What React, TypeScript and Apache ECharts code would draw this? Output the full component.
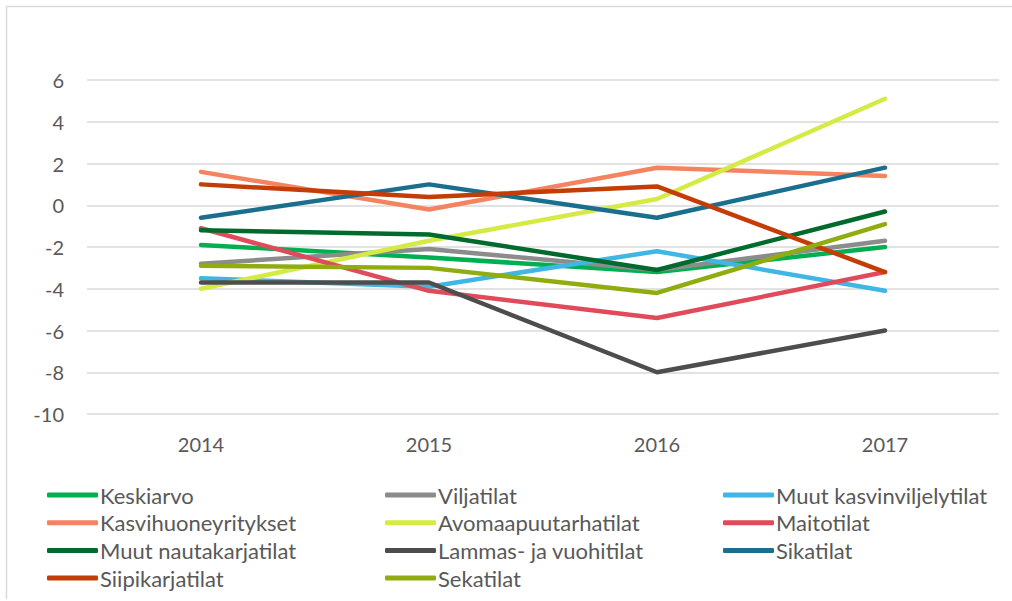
import React, { useEffect, useRef } from "react";
import * as echarts from "echarts";

const years = ["2014", "2015", "2016", "2017"];
const seriesNames = [
  "Keskiarvo",
  "Viljatilat",
  "Muut kasvinviljelytilat",
  "Kasvihuoneyritykset",
  "Avomaapuutarhatilat",
  "Maitotilat",
  "Muut nautakarjatilat",
  "Lammas- ja vuohitilat",
  "Sikatilat",
  "Siipikarjatilat",
  "Sekatilat",
];
const keskiarvo = [-1.9, -2.5, -3.2, -2.0];
const viljatilat = [-2.8, -2.1, -3.1, -1.7];
const muutKasvinviljely = [-3.5, -3.9, -2.2, -4.1];
const kasvihuone = [1.6, -0.2, 1.8, 1.4];
const avomaa = [-4.0, -1.7, 0.3, 5.1];
const maitotilat = [-1.1, -4.1, -5.4, -3.2];
const muutNauta = [-1.2, -1.4, -3.1, -0.3];
const lammas = [-3.7, -3.7, -8.0, -6.0];
const sikatilat = [-0.6, 1.0, -0.6, 1.8];
const siipikarja = [1.0, 0.4, 0.9, -3.2];
const sekatilat = [-2.9, -3.0, -4.2, -0.9];
const seriesValues = [
  keskiarvo,
  viljatilat,
  muutKasvinviljely,
  kasvihuone,
  avomaa,
  maitotilat,
  muutNauta,
  lammas,
  sikatilat,
  siipikarja,
  sekatilat,
];
const colors = [
  "#00b050",
  "#8c8c8c",
  "#3fb6e3",
  "#f4845f",
  "#d5eb43",
  "#e04a5a",
  "#006b2d",
  "#4d4d4d",
  "#1b6f8e",
  "#c43c06",
  "#8fac11",
];

const FONT = "Lato, 'Open Sans', sans-serif";

export default function App() {
  const ref = useRef<HTMLDivElement>(null);
  useEffect(() => {
    if (!ref.current) return;
    const chart = echarts.init(ref.current, undefined, { renderer: "svg" });
    const legendCols = [
      { left: 47, names: [seriesNames[0], seriesNames[3], seriesNames[6], seriesNames[9]] },
      { left: 385, names: [seriesNames[1], seriesNames[4], seriesNames[7], seriesNames[10]] },
      { left: 723, names: [seriesNames[2], seriesNames[5], seriesNames[8]] },
    ];
    chart.setOption({
      animation: false,
      backgroundColor: "#ffffff",
      color: colors,
      grid: { left: 87, right: 13, top: 80, bottom: 187, containLabel: false },
      xAxis: {
        type: "category",
        data: years,
        boundaryGap: true,
        axisLine: { show: false },
        axisTick: { show: false },
        axisLabel: { color: "#595959", fontSize: 20, fontFamily: FONT, margin: 20 },
      },
      yAxis: {
        type: "value",
        min: -10,
        max: 6,
        interval: 2,
        axisLine: { show: false },
        axisTick: { show: false },
        splitLine: { lineStyle: { color: "#d9d9d9", width: 1.5 } },
        axisLabel: { color: "#595959", fontSize: 20, fontFamily: FONT, margin: 23 },
      },
      legend: legendCols.map((c) => ({
        orient: "vertical",
        left: c.left,
        top: 484,
        data: c.names,
        icon: "roundRect",
        itemWidth: 51,
        itemHeight: 5,
        itemGap: 5.7,
        padding: 0,
        textStyle: {
          color: "#595959",
          fontSize: 22,
          fontFamily: FONT,
          lineHeight: 22,
          padding: [0, 0, 0, -3],
        },
      })),
      graphic: [
        {
          type: "line",
          shape: { x1: 6.5, y1: 6.5, x2: 1012, y2: 6.5 },
          style: { stroke: "#d9d9d9", lineWidth: 1.5 },
        },
        {
          type: "line",
          shape: { x1: 6.5, y1: 6.5, x2: 6.5, y2: 599 },
          style: { stroke: "#d9d9d9", lineWidth: 1.5 },
        },
      ],
      series: seriesNames.map((name, i) => ({
        name,
        type: "line",
        data: seriesValues[i],
        symbol: "none",
        lineStyle: { width: 4.5, color: colors[i], cap: "round", join: "round" },
        itemStyle: { color: colors[i] },
      })),
    });
    return () => chart.dispose();
  }, []);
  return (
    <div
      ref={ref}
      style={{ position: "fixed", left: 0, top: 0, width: 1012, height: 601 }}
    />
  );
}
